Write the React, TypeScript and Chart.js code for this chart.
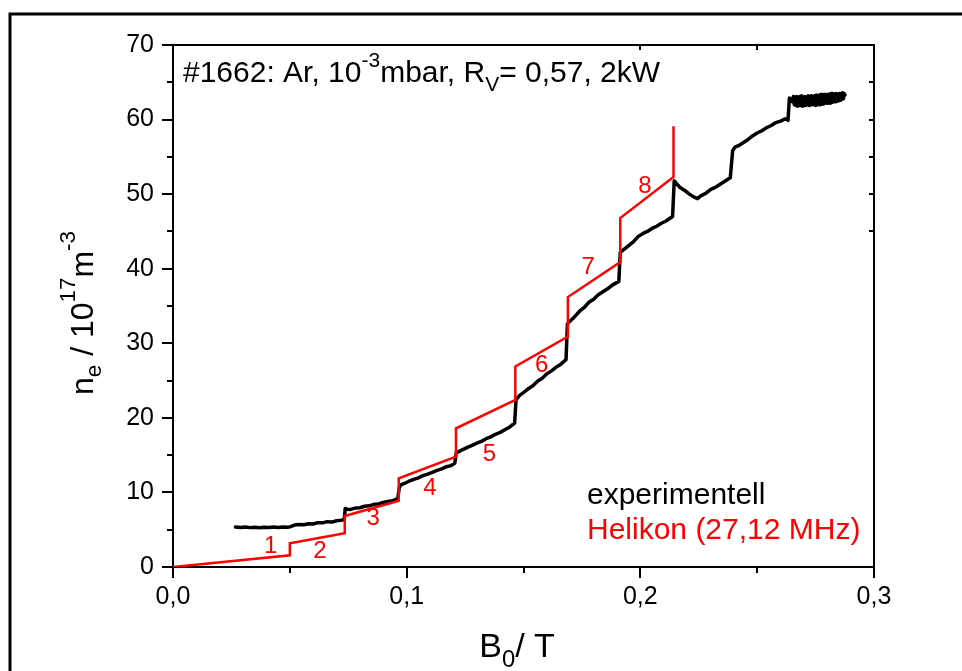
import React, { useEffect, useRef } from "react";
import { Chart, registerables } from "chart.js";

Chart.register(...registerables);

// ---- data (B0 in T, ne in 1e17 m^-3) ----
const expB = [
  0.0267, 0.029, 0.031, 0.033, 0.035, 0.037, 0.039, 0.041, 0.043, 0.045, 0.047, 0.049, 0.05,
  0.052, 0.054, 0.056, 0.058, 0.06, 0.062, 0.064, 0.066, 0.068, 0.07, 0.072, 0.0733,
  0.0737, 0.0745, 0.076, 0.078, 0.08, 0.082, 0.084, 0.086, 0.088, 0.09, 0.092, 0.094, 0.0962,
  0.0968, 0.0975, 0.099, 0.101, 0.103, 0.105, 0.107, 0.109, 0.111, 0.113, 0.115, 0.117, 0.119, 0.1206,
  0.1212, 0.1225, 0.124, 0.126, 0.128, 0.13, 0.132, 0.134, 0.136, 0.138, 0.14, 0.142, 0.144, 0.1462,
  0.1468, 0.148, 0.15, 0.152, 0.154, 0.156, 0.158, 0.16, 0.162, 0.164, 0.166, 0.1682,
  0.1688, 0.17, 0.172, 0.174, 0.176, 0.178, 0.18, 0.182, 0.184, 0.186, 0.188, 0.1908,
  0.1914, 0.193, 0.195, 0.197, 0.199, 0.201, 0.203, 0.205, 0.207, 0.209, 0.211, 0.2138,
  0.2145, 0.2155, 0.217, 0.219, 0.221, 0.223, 0.2245, 0.226, 0.228, 0.23, 0.232, 0.234, 0.236, 0.2385,
  0.2395, 0.2405, 0.242, 0.244, 0.246, 0.248, 0.25, 0.252, 0.254, 0.256, 0.258, 0.26, 0.262, 0.2632,
  0.2638, 0.2645, 0.265,
  0.2655, 0.2659, 0.2662, 0.2666, 0.2669, 0.2673, 0.2676, 0.268, 0.2683, 0.2687, 0.269, 0.2694,
  0.2697, 0.2701, 0.2704, 0.2708, 0.2711, 0.2715, 0.2718, 0.2722, 0.2725, 0.2729, 0.2732, 0.2736,
  0.2739, 0.2743, 0.2746, 0.275, 0.2753, 0.2757, 0.276, 0.2764, 0.2767, 0.2771, 0.2774, 0.2778,
  0.2781, 0.2785, 0.2788, 0.2792, 0.2795, 0.2799, 0.2802, 0.2806, 0.2809, 0.2813, 0.2816, 0.282,
  0.2823, 0.2827, 0.283, 0.2834, 0.2837, 0.2841, 0.2844, 0.2848, 0.2851, 0.2855, 0.2858, 0.2862,
  0.2865, 0.2869, 0.2872, 0.2876,
];
const expN = [
  5.35, 5.3, 5.36, 5.28, 5.33, 5.27, 5.34, 5.29, 5.35, 5.3, 5.37, 5.33, 5.38,
  5.62, 5.7, 5.66, 5.8, 5.76, 5.95, 5.92, 6.08, 6.02, 6.2, 6.28, 6.35,
  7.85, 7.75, 7.72, 7.9, 7.95, 8.15, 8.2, 8.4, 8.45, 8.65, 8.8, 8.9, 9.15,
  10.6, 11.0, 11.2, 11.5, 11.75, 11.95, 12.25, 12.45, 12.7, 12.95, 13.15, 13.45, 13.6, 13.9,
  15.3, 15.5, 15.75, 16.05, 16.3, 16.6, 16.85, 17.2, 17.45, 17.8, 18.05, 18.4, 18.75, 19.3,
  22.4, 22.9, 23.4, 23.9, 24.3, 24.9, 25.3, 25.9, 26.3, 26.8, 27.2, 27.8,
  32.6, 33.0, 33.6, 34.3, 34.8, 35.5, 35.9, 36.5, 36.9, 37.3, 37.8, 38.3,
  42.2, 42.6, 43.1, 43.6, 44.3, 44.7, 45.0, 45.4, 45.7, 46.1, 46.4, 47.0,
  51.8, 51.4, 50.9, 50.5, 50.0, 49.6, 49.4, 49.8, 50.1, 50.6, 50.9, 51.3, 51.7, 52.2,
  55.8, 56.3, 56.5, 56.9, 57.3, 57.8, 58.2, 58.5, 58.9, 59.2, 59.6, 59.8, 60.1, 59.9,
  62.9, 62.7, 62.4,
  63.1, 62.0, 63.0, 61.9, 63.1, 61.8, 63.0, 61.9, 63.1, 61.9, 63.2, 61.8,
  63.0, 61.9, 63.1, 61.9, 63.0, 62.0, 63.2, 61.9, 63.1, 62.0, 63.2, 62.0,
  63.1, 62.0, 63.2, 61.9, 63.3, 62.0, 63.2, 62.1, 63.3, 62.0, 63.4, 62.1,
  63.3, 62.1, 63.4, 62.2, 63.3, 62.2, 63.4, 62.3, 63.4, 62.2, 63.5, 62.3,
  63.5, 62.4, 63.4, 62.4, 63.5, 62.5, 63.4, 62.5, 63.5, 62.6, 63.5, 62.7,
  63.6, 62.8, 63.5, 63.3,
];

const modelB = [0, 0.05, 0.05, 0.0735, 0.0735, 0.0966, 0.0966, 0.1211, 0.1211, 0.1465, 0.1465, 0.169, 0.169, 0.1914, 0.1914, 0.2142, 0.2142];
const modelN = [0, 1.57, 3.18, 4.52, 6.84, 8.89, 11.9, 14.8, 18.6, 22.4, 26.9, 30.9, 36.2, 40.9, 46.8, 52.3, 59.1];

const modeNames = ["1", "2", "3", "4", "5", "6", "7", "8"];
const modeLabelB = [0.0418, 0.0629, 0.0857, 0.11, 0.1354, 0.1578, 0.1777, 0.202];
const modeLabelN = [2.82, 2.11, 6.53, 10.55, 15.15, 27.09, 40.19, 51.0];

const xMin = 0, xMax = 0.3, xStep = 0.1, xMinor = 0.05;
const yMin = 0, yMax = 70, yStep = 10, yMinor = 5;

const seriesNames = ["experimentell", "Helikon (27,12 MHz)"];

const FONT = "'Liberation Sans', Arial, Helvetica, sans-serif";

type Seg = { t: string; k?: "sup" | "sub" };

function drawRich(
  ctx: CanvasRenderingContext2D,
  segs: Seg[],
  x: number,
  y: number,
  size: number,
  align: "left" | "center",
  color: string,
  supShift = 0.45,
  subShift = 0.28
) {
  const widths: number[] = [];
  let total = 0;
  segs.forEach((s) => {
    const fs = s.k ? size * 0.7 : size;
    ctx.font = `${fs}px ${FONT}`;
    const w = ctx.measureText(s.t).width;
    widths.push(w);
    total += w;
  });
  ctx.save();
  ctx.fillStyle = color;
  ctx.textBaseline = "alphabetic";
  ctx.textAlign = "left";
  const start = align === "center" ? x - total / 2 : x;
  ctx.translate(start, y);
  let px = 0;
  segs.forEach((s, i) => {
    const fs = s.k ? size * 0.7 : size;
    ctx.font = `${fs}px ${FONT}`;
    const dy = s.k === "sup" ? -size * supShift : s.k === "sub" ? size * subShift : 0;
    ctx.fillText(s.t, px, dy);
    px += widths[i];
  });
  ctx.restore();
  return total;
}

const decorPlugin = {
  id: "decor",
  beforeDatasetsDraw(chart: any) {
    const { ctx, chartArea: a, scales } = chart;
    const x = scales.x;
    const y = scales.y;
    ctx.save();
    ctx.strokeStyle = "#000";
    ctx.lineCap = "butt";
    // outer frame (clipped figure border)
    ctx.lineWidth = 3;
    ctx.beginPath();
    ctx.moveTo(10, 671);
    ctx.lineTo(10, 14);
    ctx.lineTo(962, 14);
    ctx.stroke();
    // plot box
    ctx.lineWidth = 2;
    ctx.strokeRect(a.left, a.top, a.right - a.left, a.bottom - a.top);
    const seg = (x1: number, y1: number, x2: number, y2: number) => {
      ctx.beginPath();
      ctx.moveTo(x1, y1);
      ctx.lineTo(x2, y2);
      ctx.stroke();
    };
    // y ticks
    for (let v = yMin; v <= yMax + 1e-9; v += yMinor) {
      const py = Math.round(y.getPixelForValue(v));
      const major = Math.abs(v / yStep - Math.round(v / yStep)) < 1e-6;
      seg(a.left - (major ? 11 : 6), py, a.left, py);
      if (v >= 45 && v < yMax) seg(a.right - 5, py, a.right, py);
    }
    // x ticks
    for (let i = 0; i <= Math.round((xMax - xMin) / xMinor); i++) {
      const v = xMin + i * xMinor;
      const px = Math.round(x.getPixelForValue(v));
      const major = i % 2 === 0;
      seg(px, a.bottom, px, a.bottom + (major ? 11 : 6));
      if (v > 0.19 && v < xMax - 1e-6) seg(px, a.top, px, a.top + 5);
    }
    ctx.restore();
  },
  afterDatasetsDraw(chart: any) {
    const { ctx, scales } = chart;
    const x = scales.x;
    const y = scales.y;
    ctx.save();
    // mode numbers
    ctx.font = `24px ${FONT}`;
    ctx.fillStyle = "#ff0000";
    ctx.textAlign = "center";
    ctx.textBaseline = "middle";
    modeNames.forEach((n, i) => {
      ctx.fillText(n, x.getPixelForValue(modeLabelB[i]), y.getPixelForValue(modeLabelN[i]));
    });
    ctx.restore();

    // header annotation
    drawRich(
      ctx,
      [
        { t: "#1662: Ar, 10" },
        { t: "-3", k: "sup" },
        { t: "mbar, R" },
        { t: "V", k: "sub" },
        { t: "= 0,57, 2kW" },
      ],
      183,
      82,
      30,
      "left",
      "#000",
      0.5,
      0.3
    );

    // legend text
    drawRich(ctx, [{ t: seriesNames[0] }], 587, 504, 30, "left", "#000");
    drawRich(ctx, [{ t: seriesNames[1] }], 587, 539, 30, "left", "#ff0000");

    // x title
    drawRich(ctx, [{ t: "B" }, { t: "0", k: "sub" }, { t: "/ T" }], 517, 657, 34, "center", "#000");

    // y title (rotated)
    ctx.save();
    ctx.translate(93, 395);
    ctx.rotate(-Math.PI / 2);
    drawRich(
      ctx,
      [
        { t: "n" },
        { t: "e", k: "sub" },
        { t: " / 10" },
        { t: "17", k: "sup" },
        { t: "m" },
        { t: "-3", k: "sup" },
      ],
      0,
      0,
      32,
      "left",
      "#000",
      0.55,
      0.26
    );
    ctx.restore();
  },
};

export default function App() {
  const ref = useRef<HTMLCanvasElement | null>(null);

  useEffect(() => {
    if (!ref.current) return;
    Chart.defaults.font.family = FONT;
    const expData = expB.map((b, i) => ({ x: b, y: expN[i] }));
    const modelData = modelB.map((b, i) => ({ x: b, y: modelN[i] }));
    const chart = new Chart(ref.current, {
      type: "scatter",
      data: {
        datasets: [
          {
            label: seriesNames[1],
            data: modelData,
            showLine: true,
            borderColor: "#ff0000",
            backgroundColor: "#ff0000",
            borderWidth: 2.5,
            pointRadius: 0,
            order: 0,
          },
          {
            label: seriesNames[0],
            data: expData,
            showLine: true,
            borderColor: "#000000",
            backgroundColor: "#000000",
            borderWidth: 3.5,
            borderJoinStyle: "round",
            borderCapStyle: "round",
            pointRadius: 0,
            order: 1,
          },
        ],
      },
      options: {
        responsive: false,
        animation: false,
        devicePixelRatio: 1,
        layout: { padding: { top: 45, right: 88, left: 0, bottom: 0 } },
        plugins: {
          legend: { display: false },
          tooltip: { enabled: false },
        },
        scales: {
          x: {
            type: "linear",
            min: xMin,
            max: xMax,
            grid: { display: false, drawTicks: false },
            border: { display: false },
            ticks: {
              stepSize: xStep,
              padding: 15,
              color: "#000",
              font: { size: 25, family: FONT },
              maxRotation: 0,
              callback: (v: any) => Number(v).toFixed(1).replace(".", ","),
            },
            afterFit: (s: any) => {
              s.height = 104;
            },
          },
          y: {
            type: "linear",
            min: yMin,
            max: yMax,
            grid: { display: false, drawTicks: false },
            border: { display: false },
            ticks: {
              stepSize: yStep,
              padding: 19,
              color: "#000",
              font: { size: 25, family: FONT },
              callback: (v: any) => String(Math.round(Number(v))),
            },
            afterFit: (s: any) => {
              s.width = 173;
            },
          },
        },
      },
      plugins: [decorPlugin],
    });
    return () => chart.destroy();
  }, []);

  return (
    <div style={{ position: "fixed", left: 0, top: 0, width: 962, height: 671, background: "#fff" }}>
      <canvas ref={ref} width={962} height={671} style={{ display: "block" }} />
    </div>
  );
}
